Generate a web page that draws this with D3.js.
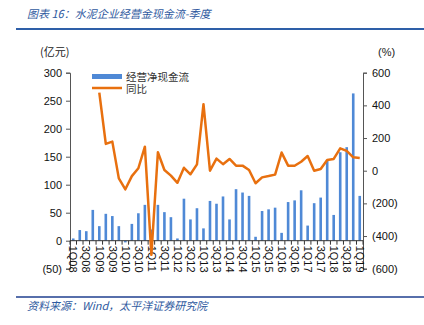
<!DOCTYPE html>
<html><head><meta charset="utf-8">
<script src="https://cdn.jsdelivr.net/npm/d3@7"></script>
<style>
body{margin:0;background:#fff;}
svg{display:block;}
text{font-family:"Liberation Sans",Arial,sans-serif;}
.cjk{font-family:"Noto Sans CJK SC","Liberation Sans",sans-serif;}
</style></head>
<body><svg id="c" width="424" height="325"></svg>
<script>
const quarters = ["1Q08","2Q08","3Q08","4Q08","1Q09","2Q09","3Q09","4Q09","1Q10","2Q10","3Q10","4Q10",
"1Q11","2Q11","3Q11","4Q11","1Q12","2Q12","3Q12","4Q12","1Q13","2Q13","3Q13","4Q13",
"1Q14","2Q14","3Q14","4Q14","1Q15","2Q15","3Q15","4Q15","1Q16","2Q16","3Q16","4Q16",
"1Q17","2Q17","3Q17","4Q17","1Q18","2Q18","3Q18","4Q18","1Q19"];
const cashFlow = [4,19,17,55,26,48,44,26,-3,30,49,64,
20,64,51,42,4,75,38,58,22,71,66,79,
38,92,86,80,7,53,56,59,14,69,72,90,
27,67,77,144,46,158,167,263,80];
const yoy = [null,null,null,null,478,164,178,-47,-114,-33,15,147,
-515,113,4,-30,-74,18,-22,39,407,0,74,40,
72,31,31,4,-77,-41,-33,-24,111,31,30,55,
90,0,10,66,72,137,121,82,78];
const leftTicks = [-50,0,50,100,150,200,250,300];
const rightTicks = [-600,-400,-200,0,200,400,600];
const legendLabels = ["经营净现金流","同比"];

const svg = d3.select("#c");
const fmt = v => v < 0 ? "(" + Math.abs(v) + ")" : String(v);

const x = d3.scaleBand().domain(quarters).range([70, 363]).padding(0);
const yL = d3.scaleLinear().domain([-50, 300]).range([268.7, 72.7]);
const yR = d3.scaleLinear().domain([-600, 600]).range([268.7, 72.7]);

// title
svg.append("text").attr("class","cjk").attr("x",27).attr("y",18)
  .attr("font-size",11).attr("font-style","italic").attr("fill","#2f5aa0")
  .text("图表 16：水泥企业经营金现金流-季度");
svg.append("line").attr("x1",16).attr("x2",424).attr("y1",29).attr("y2",29)
  .attr("stroke","#2e5fa8").attr("stroke-width",2);

// units
svg.append("text").attr("class","cjk").attr("x",40).attr("y",56).attr("font-size",11).attr("fill","#222").text("(亿元)");
svg.append("text").attr("x",378).attr("y",56).attr("font-size",11).attr("fill","#222").text("(%)");

// left axis
const gL = svg.append("g").attr("transform","translate(70,0)")
  .call(d3.axisLeft(yL).tickValues(leftTicks).tickFormat(fmt).tickSize(4).tickPadding(4));
gL.select(".domain").attr("stroke","#555");
gL.selectAll(".tick line").attr("stroke","#555");
gL.selectAll("text").attr("font-size",11).attr("fill","#111").attr("font-family","Liberation Sans, Arial, sans-serif");

// right axis
const gR = svg.append("g").attr("transform","translate(363,0)")
  .call(d3.axisRight(yR).tickValues(rightTicks).tickFormat(fmt).tickSize(4).tickPadding(5));
gR.select(".domain").attr("stroke","#555");
gR.selectAll(".tick line").attr("stroke","#555");
gR.selectAll("text").attr("font-size",11).attr("fill","#111").attr("font-family","Liberation Sans, Arial, sans-serif");

// bars
const bw = x.bandwidth()*0.4;
svg.append("g").selectAll("rect").data(cashFlow).join("rect")
  .attr("x",(d,i)=>x(quarters[i]) + x.bandwidth()/2 - bw/2)
  .attr("width",bw)
  .attr("y",d=>yL(Math.max(0,d)))
  .attr("height",d=>Math.abs(yL(d)-yL(0)))
  .attr("fill","#4f89d6");

// x axis at 0
const gX = svg.append("g").attr("transform",`translate(0,${yL(0)})`);
gX.append("line").attr("x1",70).attr("x2",363).attr("y1",0).attr("y2",0).attr("stroke","#333");
gX.selectAll("line.tk").data(d3.range(quarters.length+1)).join("line").attr("class","tk")
  .attr("x1",i=>70+i*x.step()).attr("x2",i=>70+i*x.step()).attr("y1",0).attr("y2",4).attr("stroke","#333");
gX.selectAll("text").data(quarters.filter((q,i)=>i%2===0)).join("text")
  .attr("transform",d=>`translate(${x(d)+x.bandwidth()/2-3.8},5) rotate(90)`)
  .attr("font-size",11).attr("fill","#111").text(d=>d);

// line
const line = d3.line().defined(d=>d.v!==null).x(d=>x(d.q)+x.bandwidth()/2).y(d=>yR(d.v));
svg.append("path").datum(quarters.map((q,i)=>({q,v:yoy[i]})))
  .attr("d",line).attr("fill","none").attr("stroke","#e8700f").attr("stroke-width",2.5).attr("stroke-linejoin","round");

// legend
svg.append("rect").attr("x",92).attr("y",74).attr("width",30).attr("height",5).attr("fill","#4f89d6");
svg.append("line").attr("x1",92).attr("x2",122).attr("y1",88).attr("y2",88).attr("stroke","#e8700f").attr("stroke-width",2.5);
svg.append("text").attr("class","cjk").attr("x",126).attr("y",80.5).attr("font-size",10.5).attr("fill","#333").text(legendLabels[0]);
svg.append("text").attr("class","cjk").attr("x",126).attr("y",92.5).attr("font-size",10.5).attr("fill","#333").text(legendLabels[1]);

// source
svg.append("line").attr("x1",16).attr("x2",424).attr("y1",297).attr("y2",297).attr("stroke","#1f3f8f").attr("stroke-width",1.5);
svg.append("text").attr("class","cjk").attr("x",27).attr("y",310).attr("font-size",11).attr("font-style","italic").attr("fill","#2f5aa0")
  .text("资料来源：Wind，太平洋证券研究院");
</script></body></html>
